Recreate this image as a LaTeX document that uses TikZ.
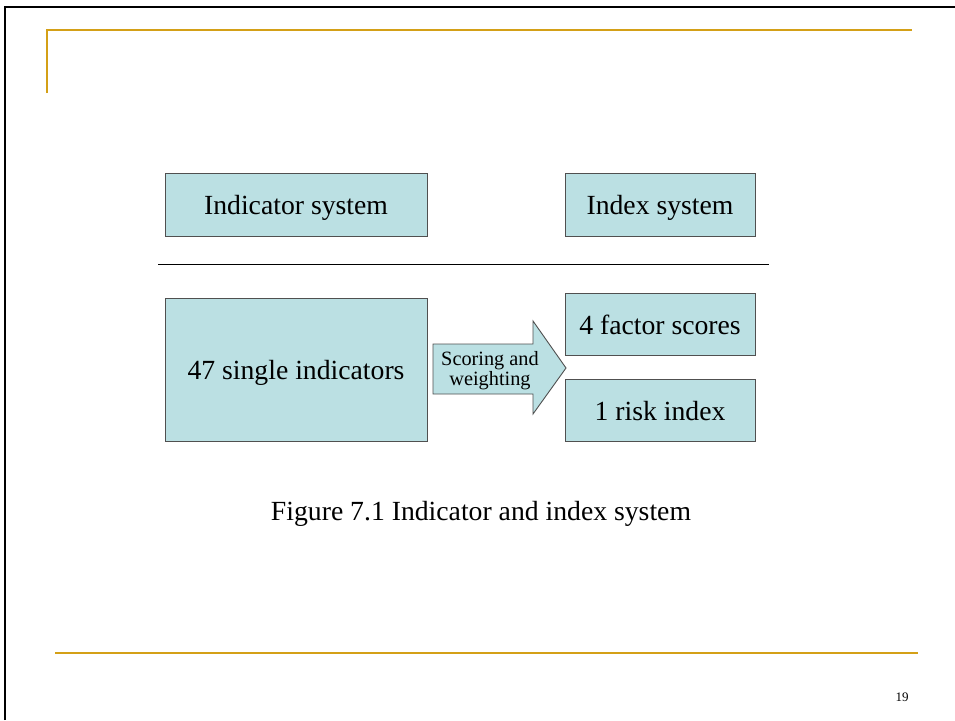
\documentclass[tikz,border=0pt]{standalone}
\usepackage{fontspec}
\setmainfont{Liberation Serif}
\definecolor{gold}{RGB}{212,160,23}
\definecolor{boxfill}{RGB}{187,224,227}
\definecolor{boxline}{RGB}{80,80,80}
\begin{document}
\begin{tikzpicture}[x=1pt,y=-1pt,
  panel/.style={draw=boxline,line width=0.9pt,fill=boxfill,inner sep=0pt,
    text height=20pt,text depth=0pt,
    font=\fontsize{27.7}{32}\selectfont},
  rule/.style={gold,line width=2pt}]
\useasboundingbox (0,0) rectangle (955,720);
\fill[white] (0,0) rectangle (955,720);
% slide frame
\draw[black,line width=2.6pt] (5,720) -- (5,7) -- (955,7);
% decorative gold rules
\draw[rule] (47,93) -- (47,29.5) -- (912,29.5);
\draw[rule] (55,653) -- (918,653);
% header boxes
\node[panel,minimum width=262pt,minimum height=63pt] (ind) at (296,204.5) {Indicator system};
\node[panel,minimum width=190pt,minimum height=63pt] (idx) at (660,204.5) {Index system};
\draw[line width=0.9pt] (158,264.5) -- (769,264.5);
% content boxes
\node[panel,minimum width=262pt,minimum height=143pt] (single) at (296,369.5) {47 single indicators};
\node[panel,minimum width=190pt,minimum height=62pt] (factor) at (660,324) {4 factor scores};
\node[panel,minimum width=190pt,minimum height=62pt] (risk) at (660,410) {1 risk index};
% block arrow between them
\draw[boxline,line width=0.9pt,fill=boxfill]
  (433,344) -- (533,344) -- (533,321) -- (566,368) -- (533,414) -- (533,394) -- (433,394) -- cycle;
\node[align=center,font=\fontsize{20.3}{20}\selectfont,inner sep=0pt] (sw) at (490,371) {Scoring and\\weighting};
% caption and page number
\node[font=\fontsize{27.7}{32}\selectfont] (cap) at (481,514) {Figure 7.1 Indicator and index system};
\node[font=\fontsize{13}{15}\selectfont] (pg) at (902,697) {19};
\end{tikzpicture}
\end{document}
